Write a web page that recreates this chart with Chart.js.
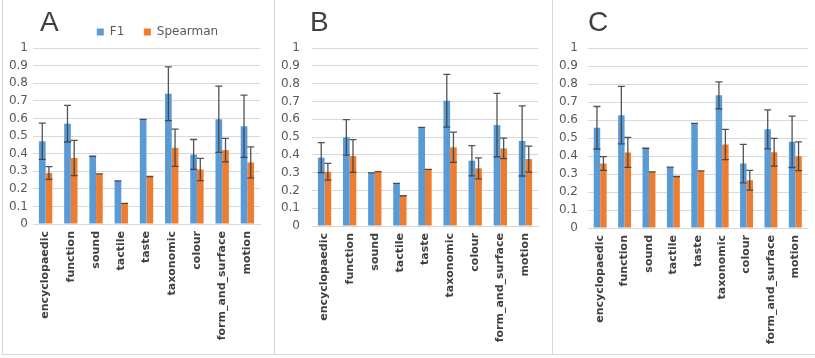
<!DOCTYPE html>
<html>
<head>
<meta charset="utf-8">
<script src="https://cdn.jsdelivr.net/npm/chart.js@4"></script>
<style>
  html, body { margin: 0; padding: 0; background: #fff; width: 815px; height: 358px; overflow: hidden; }
  .panel { position: absolute; top: 0; height: 354px; border-bottom: 1px solid #d9d9d9; overflow: hidden; }
  #pA { left: 2px; width: 271px; border-left: 1px solid #d9d9d9; border-right: 1px solid #d9d9d9; }
  #pB { left: 275px; width: 277px; border-right: 1px solid #d9d9d9; }
  #pC { left: 553px; width: 263px; }
  canvas { display: block; }
</style>
</head>
<body>
<div class="panel" id="pA"><canvas id="chartA" width="271" height="354"></canvas></div>
<div class="panel" id="pB"><canvas id="chartB" width="277" height="354"></canvas></div>
<div class="panel" id="pC"><canvas id="chartC" width="263" height="354"></canvas></div>
<script>
const categories = ['encyclopaedic', 'function', 'sound', 'tactile', 'taste', 'taxonomic', 'colour', 'form_and_surface', 'motion'];
const yTickLabels = ['0', '0.1', '0.2', '0.3', '0.4', '0.5', '0.6', '0.7', '0.8', '0.9', '1'];

// panel A
const f1A = [0.47, 0.57, 0.385, 0.245, 0.595, 0.74, 0.395, 0.595, 0.555];
const f1ErrA = [0.103, 0.104, 0, 0, 0, 0.153, 0.085, 0.188, 0.177];
const spA = [0.29, 0.375, 0.285, 0.117, 0.27, 0.433, 0.31, 0.42, 0.35];
const spErrA = [0.036, 0.1, 0, 0, 0, 0.106, 0.063, 0.067, 0.088];

// panel B
const f1B = [0.384, 0.498, 0.298, 0.24, 0.554, 0.704, 0.367, 0.567, 0.478];
const f1ErrB = [0.084, 0.1, 0, 0, 0, 0.148, 0.085, 0.178, 0.197];
const spB = [0.305, 0.393, 0.305, 0.17, 0.318, 0.442, 0.324, 0.436, 0.376];
const spErrB = [0.047, 0.092, 0, 0, 0, 0.085, 0.059, 0.058, 0.073];

// panel C
const f1C = [0.557, 0.627, 0.443, 0.338, 0.581, 0.737, 0.358, 0.548, 0.479];
const f1ErrC = [0.118, 0.16, 0, 0, 0, 0.075, 0.107, 0.108, 0.143];
const spC = [0.358, 0.42, 0.312, 0.286, 0.317, 0.464, 0.265, 0.421, 0.399];
const spErrC = [0.038, 0.083, 0, 0, 0, 0.084, 0.055, 0.077, 0.08];

// draws +/- error bars on each bar using the y scale
const errorBarPlugin = {
    id: 'errorBars',
    afterDatasetsDraw(chart, args, opts) {
        const ctx = chart.ctx;
        const y = chart.scales.y;
        ctx.save();
        ctx.strokeStyle = opts.color;
        ctx.lineWidth = opts.width;
        chart.data.datasets.forEach((ds, i) => {
            const meta = chart.getDatasetMeta(i);
            meta.data.forEach((bar, j) => {
                const v = ds.data[j];
                const e = ds.errors[j];
                const top = y.getPixelForValue(v + e);
                const bot = y.getPixelForValue(v - e);
                const x = bar.x;
                const c = opts.cap;
                ctx.beginPath();
                ctx.moveTo(x, top); ctx.lineTo(x, bot);
                ctx.moveTo(x - c, top); ctx.lineTo(x + c, top);
                ctx.moveTo(x - c, bot); ctx.lineTo(x + c, bot);
                ctx.stroke();
            });
        });
        ctx.restore();
    }
};

// small horizontal shifts for the panel letter and legend
const nudgePlugin = {
    id: 'nudge',
    afterLayout(chart, args, opts) {
        if (chart.legend && opts.legendDx) {
            chart.legend.left += opts.legendDx;
            chart.legend.right += opts.legendDx;
        }
        if (chart.titleBlock && opts.titleDx) {
            chart.titleBlock.left += opts.titleDx;
            chart.titleBlock.right += opts.titleDx;
        }
    }
};

function buildChart(id, letter, f1, f1Err, sp, spErr, cfg) {
    const ctx = document.getElementById(id).getContext('2d');
    return new Chart(ctx, {
        type: 'bar',
        data: {
            labels: categories,
            datasets: [
                { label: 'F1', data: f1, errors: f1Err, backgroundColor: '#5b9bd5', borderWidth: 0 },
                { label: 'Spearman', data: sp, errors: spErr, backgroundColor: '#ed7d31', borderWidth: 0 }
            ]
        },
        options: {
            responsive: false,
            animation: false,
            layout: { padding: { left: 0, right: cfg.padRight, top: 0, bottom: 0 } },
            datasets: { bar: { categoryPercentage: 0.53, barPercentage: 1 } },
            scales: {
                x: {
                    grid: { display: false, drawTicks: false },
                    border: { display: true, color: '#d9d9d9' },
                    ticks: {
                        minRotation: 90, maxRotation: 90, autoSkip: false, padding: 7,
                        color: '#404040',
                        font: { family: 'DejaVu Sans', size: 11, weight: 'bold' }
                    },
                    afterFit: s => { s.height = cfg.xAxisH; }
                },
                y: {
                    min: 0, max: 1,
                    grid: { color: '#d9d9d9', drawTicks: false },
                    border: { display: false },
                    ticks: {
                        stepSize: 0.1, padding: cfg.tickPad, color: '#595959',
                        font: { family: 'DejaVu Sans', size: 12 },
                        callback: (v, i) => yTickLabels[i]
                    },
                    afterFit: s => { s.width = cfg.yAxisW; }
                }
            },
            plugins: {
                title: {
                    display: true, text: letter, align: 'start', fullSize: false,
                    color: '#404040',
                    font: { family: 'Liberation Sans', size: 28, weight: 'normal', lineHeight: 1.2 },
                    padding: { top: 6, bottom: cfg.titlePadBottom }
                },
                legend: {
                    display: cfg.legend, position: 'top', fullSize: false,
                    labels: {
                        boxWidth: 7, boxHeight: 7, padding: 19.5, color: '#595959',
                        font: { family: 'DejaVu Sans', size: 12 }
                    }
                },
                tooltip: { enabled: false },
                errorBars: { color: 'rgba(64,64,64,0.9)', width: 1.3, cap: 3.5 },
                nudge: { legendDx: cfg.legendDx, titleDx: cfg.titleDx }
            }
        },
        plugins: [errorBarPlugin, nudgePlugin]
    });
}

buildChart('chartA', 'A', f1A, f1ErrA, spA, spErrA,
    { yAxisW: 30, padRight: 14, xAxisH: 130, tickPad: 5, titlePadBottom: -33.1, legend: true, legendDx: 11, titleDx: 7 });
buildChart('chartB', 'B', f1B, f1ErrB, spB, spErrB,
    { yAxisW: 37, padRight: 14, xAxisH: 128, tickPad: 12, titlePadBottom: 8.4, legend: false, legendDx: 0, titleDx: -2 });
buildChart('chartC', 'C', f1C, f1ErrC, spC, spErrC,
    { yAxisW: 35, padRight: 0, xAxisH: 126, tickPad: 10, titlePadBottom: 8.4, legend: false, legendDx: 0, titleDx: 0 });
</script>
</body>
</html>
